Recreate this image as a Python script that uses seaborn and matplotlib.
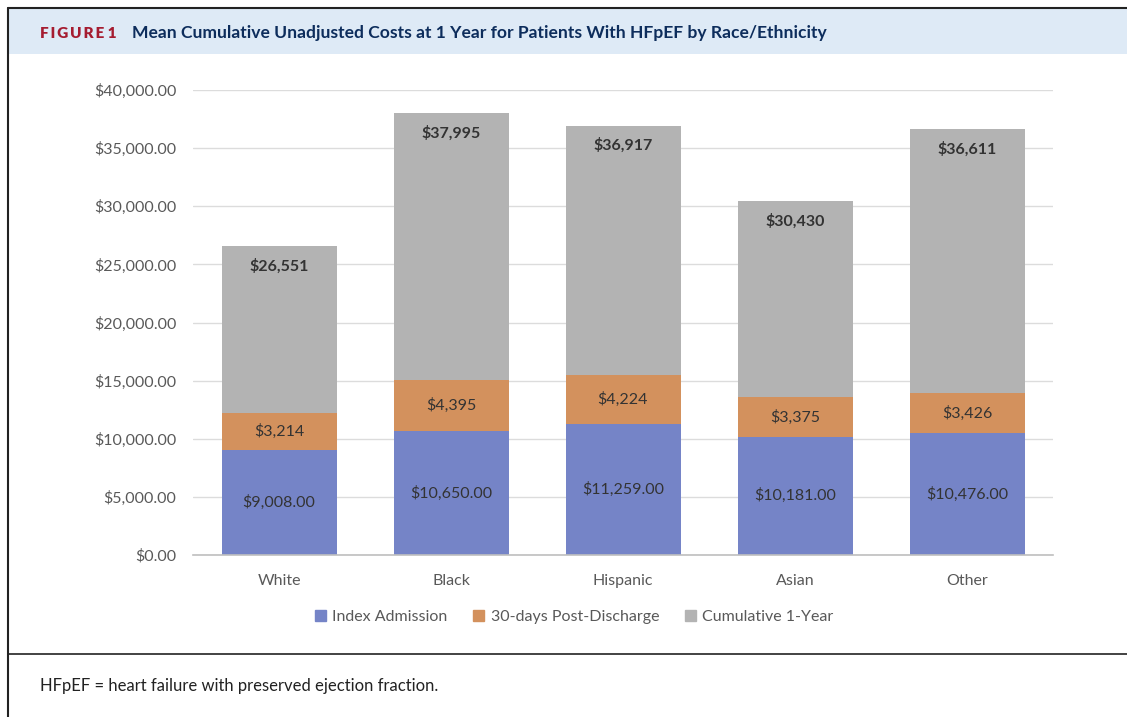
import numpy as np
import pandas as pd
import seaborn as sns
from matplotlib import pyplot as plt
from matplotlib.patches import Rectangle, Patch
from matplotlib.lines import Line2D

categories = ['White', 'Black', 'Hispanic', 'Asian', 'Other']
index_admission = [9008, 10650, 11259, 10181, 10476]
post_discharge = [3214, 4395, 4224, 3375, 3426]
cumulative_total = [26551, 37995, 36917, 30430, 36611]
y_ticks = [0, 5000, 10000, 15000, 20000, 25000, 30000, 35000, 40000]
series_names = ['Index Admission', '30-days Post-Discharge', 'Cumulative 1-Year']

blue = '#7584c7'
orange = '#d3915d'
grey = '#b3b3b3'
text_grey = '#595959'
label_dark = '#333333'

df = pd.DataFrame({
	'race': categories,
	'index': index_admission,
	'post': post_discharge,
	'total': cumulative_total,
})
df['index_post'] = df['index'] + df['post']

sns.set_theme(style='white')
plt.rcParams['font.family'] = ['Lato', 'DejaVu Sans']

fig = plt.figure(figsize=(11.27, 7.17), dpi=100)
ax = fig.add_axes([193 / 1127, 1 - 555 / 717, 860 / 1127, 465 / 717])

# layered bars: total first, then index+post, then index on top
bw = 115 / 172
sns.barplot(data=df, x='race', y='total', color=grey, width=bw, saturation=1, linewidth=0, ax=ax, zorder=2)
sns.barplot(data=df, x='race', y='index_post', color=orange, width=bw, saturation=1, linewidth=0, ax=ax, zorder=3)
sns.barplot(data=df, x='race', y='index', color=blue, width=bw, saturation=1, linewidth=0, ax=ax, zorder=4)

ax.set_xlim(-0.5, 4.5)
ax.set_ylim(0, 40000)
ax.set_yticks(y_ticks)
ax.set_yticklabels([f'${v:,.2f}' for v in y_ticks], fontsize=11.5, color=text_grey)
ax.tick_params(axis='y', length=0, pad=12)
ax.tick_params(axis='x', length=0, pad=14, labelsize=11.5, labelcolor=text_grey)
ax.set_xlabel('')
ax.set_ylabel('')
ax.grid(axis='y', color='#dcdcdc', linewidth=1, zorder=0)
ax.set_axisbelow(True)
for s in ['top', 'right', 'left']:
	ax.spines[s].set_visible(False)
ax.spines['bottom'].set_color('#bfbfbf')
ax.spines['bottom'].set_linewidth(1.2)
ax.spines['bottom'].set_zorder(5)

for i, row in df.iterrows():
	ax.text(i, row['index'] / 2, f"${row['index']:,.2f}", ha='center', va='center',
			fontsize=11.5, color=label_dark, zorder=6)
	ax.text(i, row['index'] + row['post'] / 2, f"${row['post']:,}", ha='center', va='center',
			fontsize=11.5, color=label_dark, zorder=6)
	ax.text(i, row['total'] - 1700, f"${row['total']:,}", ha='center', va='center',
			fontsize=11.5, fontweight='bold', color=label_dark, zorder=6)

handles = [Patch(color=c) for c in [blue, orange, grey]]
fig.legend(handles, series_names, loc='center', bbox_to_anchor=(574 / 1127, 1 - 617 / 717),
		   ncol=3, frameon=False, fontsize=11.5, labelcolor=text_grey,
		   handlelength=0.7, handleheight=0.7, handletextpad=0.4, columnspacing=1.6)

# header band and frame
fig.patches.append(Rectangle((9 / 1127, 1 - 54 / 717), 1, 45 / 717, transform=fig.transFigure,
							 facecolor='#deeaf6', edgecolor='none', zorder=0))
fig.lines.append(Line2D([8 / 1127, 1], [1 - 8 / 717, 1 - 8 / 717], transform=fig.transFigure,
						color='#222222', linewidth=1.5))
fig.lines.append(Line2D([8 / 1127, 8 / 1127], [0, 1 - 8 / 717], transform=fig.transFigure,
						color='#222222', linewidth=1.5))
fig.lines.append(Line2D([8 / 1127, 1], [1 - 654 / 717, 1 - 654 / 717], transform=fig.transFigure,
						color='#222222', linewidth=1.2))

fig.text(40 / 1127, 1 - 33 / 717, '\u2009'.join('FIGURE') + ' 1', color='#a51c30', fontsize=11,
		 fontweight='heavy', va='center', ha='left')
fig.text(132 / 1127, 1 - 33 / 717, 'Mean Cumulative Unadjusted Costs at 1 Year for Patients With HFpEF by Race/Ethnicity',
		 color='#0d2d5c', fontsize=12.6, fontweight='bold', va='center', ha='left')
fig.text(40 / 1127, 1 - 686 / 717, 'HFpEF = heart failure with preserved ejection fraction.',
		 color='#222222', fontsize=12, va='center', ha='left')

fig.savefig('out.png', dpi=100)
